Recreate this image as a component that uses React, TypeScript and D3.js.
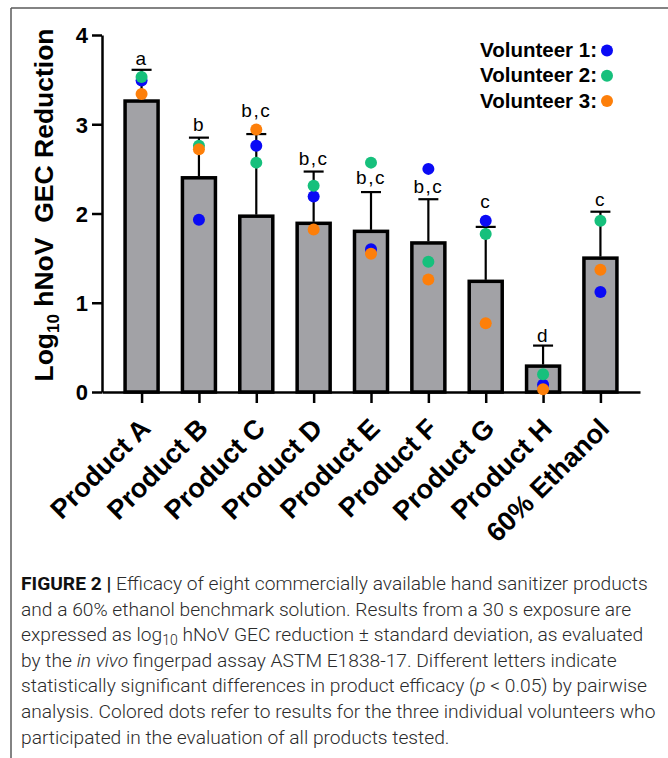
import React, { useEffect, useRef } from 'react'
import * as d3 from 'd3'

// values (log10 hNoV GEC reduction)
const categories = ['Product A', 'Product B', 'Product C', 'Product D', 'Product E', 'Product F', 'Product G', 'Product H', '60% Ethanol']
const means = [3.26, 2.40, 1.97, 1.89, 1.80, 1.67, 1.24, 0.29, 1.50]
const sd = [0.35, 0.45, 0.92, 0.58, 0.44, 0.49, 0.61, 0.23, 0.52]
const volunteer1 = [3.49, 1.93, 2.76, 2.19, 1.60, 2.50, 1.92, 0.08, 1.12]
const volunteer2 = [3.53, 2.76, 2.57, 2.31, 2.57, 1.46, 1.77, 0.20, 1.92]
const volunteer3 = [3.34, 2.72, 2.94, 1.82, 1.55, 1.26, 0.77, 0.03, 1.37]
const letters = ['a', 'b', 'b,c', 'b,c', 'b,c', 'b,c', 'c', 'd', 'c']
const letterAt = [3.66, 2.92, 3.08, 2.54, 2.33, 2.23, 2.06, 0.56, 2.08]
const yTicks = [0, 1, 2, 3, 4]
const volunteerNames = ['Volunteer 1:', 'Volunteer 2:', 'Volunteer 3:']
const volunteerColors = ['#0a0af5', '#16c07c', '#fd7f0a']

const caption = [
  [{ t: 'FIGURE 2 | ', b: true }, { t: 'Efficacy of eight commercially available hand sanitizer products' }],
  [{ t: 'and a 60% ethanol benchmark solution. Results from a 30 s exposure are' }],
  [{ t: 'expressed as log' }, { t: '10', sub: true }, { t: ' hNoV GEC reduction \u00b1 standard deviation, as evaluated' }],
  [{ t: 'by the ' }, { t: 'in vivo', i: true }, { t: ' fingerpad assay ASTM E1838-17. Different letters indicate' }],
  [{ t: 'statistically significant differences in product efficacy (' }, { t: 'p', i: true }, { t: ' < 0.05) by pairwise' }],
  [{ t: 'analysis. Colored dots refer to results for the three individual volunteers who' }],
  [{ t: 'participated in the evaluation of all products tested.' }],
]

const W = 668, H = 758
const FONT = "'Liberation Sans', Arial, sans-serif"

const App = () => {
  const ref = useRef<SVGSVGElement>(null)

  useEffect(() => {
    const svg = d3.select(ref.current)
    svg.selectAll('*').remove()
    drawChart(svg)
  }, [])

  return <svg ref={ref} width={W} height={H} style={{ position: 'absolute', left: 0, top: 0, background: '#fff' }} />
}

const drawChart = (svg: any) => {
  const left = 102, right = 640, top = 35, bottom = 392

  // page frame
  svg.append('line').attr('x1', 11).attr('x2', W).attr('y1', 8).attr('y2', 8)
    .attr('stroke', '#5a5a5a').attr('stroke-width', 1.5)
  svg.append('line').attr('x1', 11).attr('x2', 11).attr('y1', 8).attr('y2', H)
    .attr('stroke', '#5a5a5a').attr('stroke-width', 1.5)

  const x = d3.scalePoint().domain(categories).range([left, right]).padding(0.69)
  const y = d3.scaleLinear().domain([0, 4]).range([bottom, top])

  const g = svg.append('g').attr('font-family', FONT)

  // bars
  g.selectAll('.bar')
    .data(categories)
    .enter().append('rect')
    .attr('class', 'bar')
    .attr('x', (d: string) => x(d)! - 16.5)
    .attr('width', 33)
    .attr('y', (d: string, i: number) => y(means[i]))
    .attr('height', (d: string, i: number) => y(0) - y(means[i]))
    .attr('fill', '#a2a2a6')
    .attr('stroke', '#000')
    .attr('stroke-width', 3.5)

  // error bars (upper only)
  g.selectAll('.err')
    .data(categories)
    .enter().append('line')
    .attr('x1', (d: string) => x(d)!).attr('x2', (d: string) => x(d)!)
    .attr('y1', (d: string, i: number) => y(means[i]) - 1.5)
    .attr('y2', (d: string, i: number) => y(means[i] + sd[i]))
    .attr('stroke', '#000').attr('stroke-width', 2.2)
  g.selectAll('.cap')
    .data(categories)
    .enter().append('line')
    .attr('x1', (d: string) => x(d)! - 10).attr('x2', (d: string) => x(d)! + 10)
    .attr('y1', (d: string, i: number) => y(means[i] + sd[i]))
    .attr('y2', (d: string, i: number) => y(means[i] + sd[i]))
    .attr('stroke', '#000').attr('stroke-width', 2.2)

  // axes
  const yAxis = g.append('g')
    .attr('transform', `translate(${left},0)`)
    .call(d3.axisLeft(y).tickValues(yTicks).tickSize(10).tickSizeOuter(0).tickPadding(4).tickFormat(d3.format('d')))
  yAxis.attr('font-family', FONT).attr('font-size', 22).attr('font-weight', 'bold')
  yAxis.selectAll('line, path').attr('stroke-width', 2.5)
  yAxis.selectAll('text').attr('dy', '0.36em')

  const xAxis = g.append('g')
    .attr('transform', `translate(0,${bottom})`)
    .call(d3.axisBottom(x).tickSize(11).tickSizeOuter(0))
  xAxis.attr('font-family', FONT).attr('font-size', 27).attr('font-weight', 'bold')
  xAxis.selectAll('line, path').attr('stroke-width', 2.5)
  xAxis.selectAll('text')
    .attr('y', 0).attr('dy', 0)
    .attr('text-anchor', 'end')
    .attr('transform', 'translate(10,38) rotate(-45)')

  // volunteer dots
  ;[volunteer1, volunteer2, volunteer3].forEach((vals, k) => {
    g.selectAll('.dot' + k)
      .data(vals)
      .enter().append('circle')
      .attr('cx', (d: number, i: number) => x(categories[i])!)
      .attr('cy', (d: number) => y(d))
      .attr('r', 6)
      .attr('fill', volunteerColors[k])
  })

  // significance letters
  g.selectAll('.letter')
    .data(letters)
    .enter().append('text')
    .attr('x', (d: string, i: number) => x(categories[i])!)
    .attr('y', (d: string, i: number) => y(letterAt[i]))
    .attr('text-anchor', 'middle')
    .attr('font-size', 19)
    .attr('letter-spacing', 1.5)
    .text((d: string) => d)

  // y label
  const yl = g.append('text')
    .attr('transform', 'translate(53,205) rotate(-90)')
    .attr('text-anchor', 'middle')
    .attr('font-size', 26.5)
    .attr('font-weight', 'bold')
    .style('white-space', 'pre')
  yl.append('tspan').text('Log')
  yl.append('tspan').attr('font-size', 17).attr('dy', 6).text('10')
  yl.append('tspan').attr('dy', -6).text(' hNoV  GEC Reduction')

  // legend
  volunteerNames.forEach((name, k) => {
    const ly = 57 + k * 25.3
    g.append('text').attr('x', 597).attr('y', ly)
      .attr('text-anchor', 'end').attr('font-size', 20.5).attr('font-weight', 'bold')
      .text(name)
    g.append('circle').attr('cx', 607).attr('cy', ly - 6.5).attr('r', 6).attr('fill', volunteerColors[k])
  })

  // caption
  const cap = svg.append('g').attr('font-family', "Roboto, 'Liberation Sans', sans-serif")
    .attr('font-size', 19.2).attr('font-weight', 300).attr('fill', '#2b2b2b')
  caption.forEach((line, li) => {
    const t = cap.append('text').attr('x', 21).attr('y', 590 + li * 25.6)
    line.forEach((seg: any, si: number) => {
      const s = t.append('tspan').text(seg.t)
      if (seg.b) s.attr('font-weight', 'bold').attr('fill', '#111')
      if (seg.i) s.attr('font-style', 'italic')
      if (seg.sub) s.attr('font-size', 14).attr('dy', 4)
      else if (si > 0 && (line[si - 1] as any).sub) s.attr('dy', -4)
    })
  })
}

export default App
